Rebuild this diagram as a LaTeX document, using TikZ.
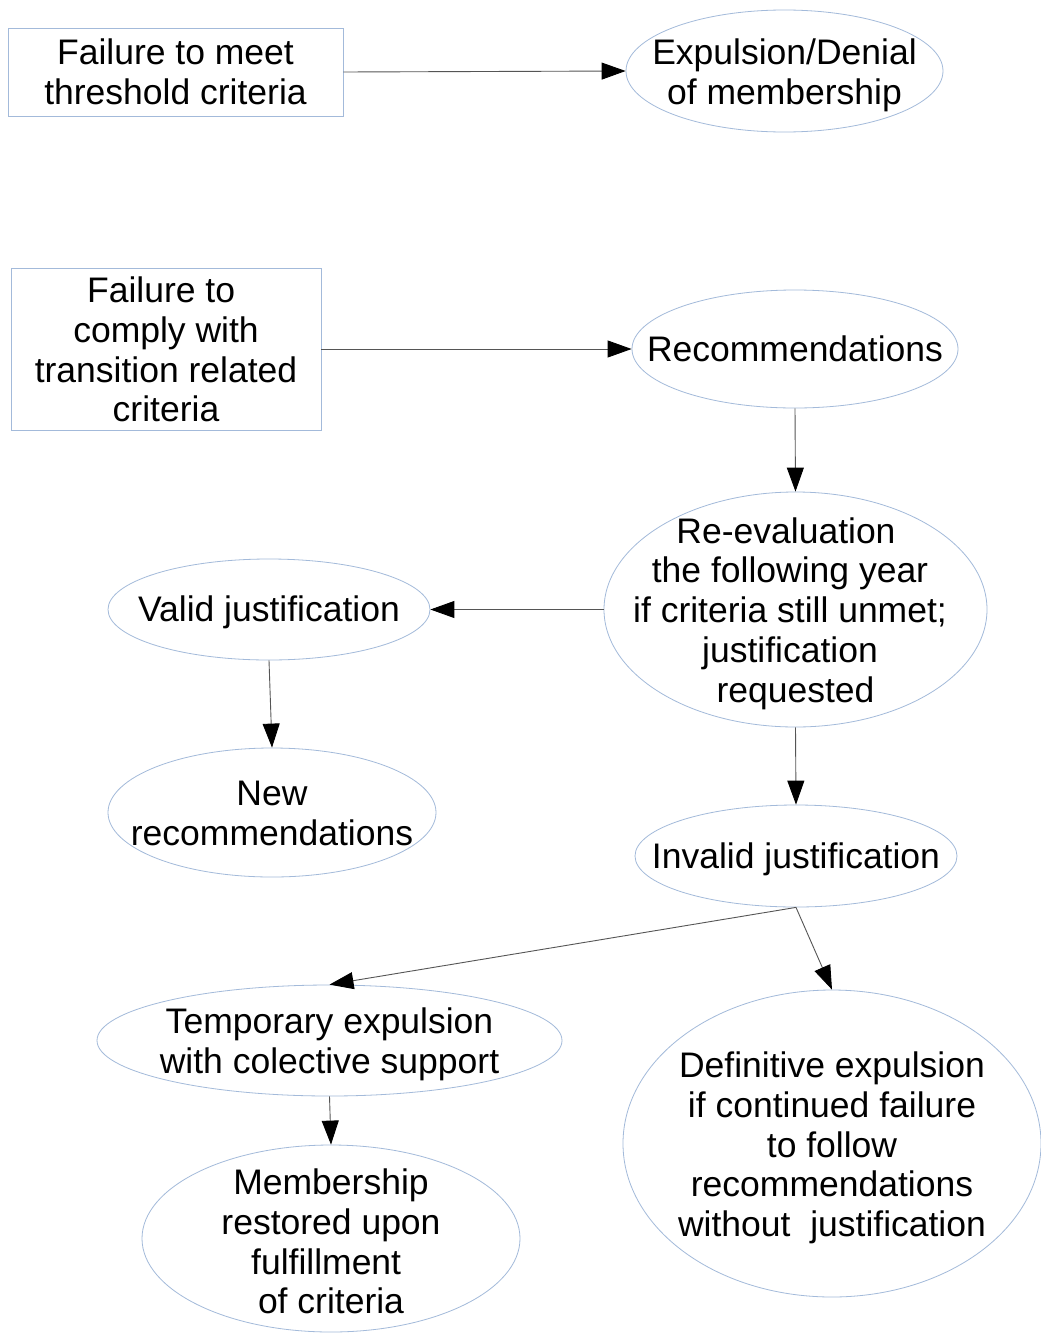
\documentclass[tikz,border=0pt]{standalone}
\usepackage{fontspec}
\setmainfont{Liberation Sans}
\usetikzlibrary{shapes.geometric,arrows.meta}
\definecolor{ecol}{HTML}{A3BADA}
\definecolor{acol}{HTML}{555555}
\newcommand\diaglbl{\fontsize{35.5}{39.8}\selectfont}
\newcommand\dgtr[1]{\hspace*{#1}\null}
\begin{document}
\begin{tikzpicture}[x=1pt,y=-1pt,
  ell/.style={draw=ecol, line width=0.8pt, ellipse, inner sep=0pt},
  boxnode/.style={draw=ecol, line width=0.9pt, rectangle, inner sep=0pt},
  lab/.style={align=center, font=\diaglbl, inner sep=0pt},
  arr/.style={draw=acol, line width=0.9pt, -{Triangle[length=24pt,width=17pt,color=black]}}]
\useasboundingbox[fill=white] (0,0) rectangle (1041,1333);

% nodes
\node[boxnode, minimum width=335pt, minimum height=88pt] (A) at (175.5,72) {};
\node[lab] (At) at (175.5,72) {Failure to meet\\threshold criteria};

\node[ell, minimum width=317pt, minimum height=122pt] (B) at (784.5,71) {};
\node[lab] (Bt) at (784.5,75) {Expulsion/Denial\\of membership};

\node[boxnode, minimum width=310pt, minimum height=162pt] (C) at (166,349) {};
\node[lab] (Ct) at (166,349.5) {Failure to\dgtr{9.7pt}\\comply with\\transition related\\criteria};

\node[ell, minimum width=326pt, minimum height=118pt] (D) at (795,349) {};
\node[lab] (Dt) at (795,349) {Recommendations};

\node[ell, minimum width=383pt, minimum height=235pt] (E) at (795.5,609.5) {};
\node[lab] (Et) at (795.5,613.5) {Re-evaluation\dgtr{19pt}\\the following year\dgtr{11pt}\\if criteria still unmet;\dgtr{11pt}\\justification\dgtr{11pt}\\requested};

\node[ell, minimum width=322pt, minimum height=101pt] (F) at (269,609.5) {};
\node[lab] (Ft) at (269,612.5) {Valid justification};

\node[ell, minimum width=328pt, minimum height=129pt] (G) at (272,812.5) {};
\node[lab] (Gt) at (272,813.5) {New\\recommendations};

\node[ell, minimum width=322pt, minimum height=102pt] (H) at (796,856) {};
\node[lab] (Ht) at (796,859) {Invalid justification};

\node[ell, minimum width=465pt, minimum height=111pt] (I) at (329.5,1040.5) {};
\node[lab] (It) at (329.5,1044) {Temporary expulsion\\with colective support};

\node[ell, minimum width=418pt, minimum height=307pt] (J) at (832,1143.5) {};
\node[lab] (Jt) at (832,1148) {Definitive expulsion\\if continued failure\\to follow\\recommendations\\without\ \ justification};

\node[ell, minimum width=378pt, minimum height=187pt] (K) at (331,1238.5) {};
\node[lab] (Kt) at (331,1241.5) {Membership\\restored upon\\fulfillment\dgtr{9.7pt}\\of criteria};

% connectors
\draw[arr] (A.east) -- (B.west);
\draw[arr] (C.east) -- (D.west);
\draw[arr] (D.south) -- (E.north);
\draw[arr] (E.west) -- (F.east);
\draw[arr] (F.south) -- (G.north);
\draw[arr] (E.south) -- (H.north);
\draw[arr] (H.south) -- (I.north);
\draw[arr] (H.south) -- (J.north);
\draw[arr] (I.south) -- (K.north);
\end{tikzpicture}
\end{document}
